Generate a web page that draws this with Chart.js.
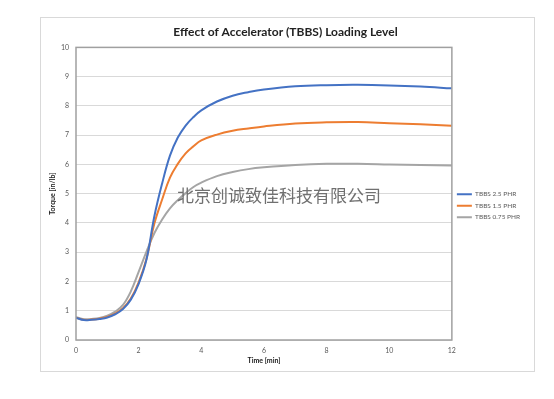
<!DOCTYPE html>
<html>
<head>
<meta charset="utf-8">
<script src="https://cdn.jsdelivr.net/npm/chart.js@4"></script>
<style>
  html, body { margin: 0; padding: 0; background: #fff; }
  body { width: 554px; height: 399px; position: relative; overflow: hidden; }
  #frame { position: absolute; left: 40px; top: 17px; width: 495px; height: 355px; border: 1px solid #d9d9d9; box-sizing: border-box; }
  #stamp { position: absolute; left: 177px; top: 185px; font: 17px "Noto Sans CJK SC", sans-serif; color: #707070; white-space: nowrap; line-height: 20px; }
</style>
</head>
<body>
<div id="frame"><canvas id="chart-torque"></canvas></div>
<div id="stamp">北京创诚致佳科技有限公司</div>
<script>
// time points (minutes)
const timeMin = [0, 0.25, 0.5, 0.75, 1, 1.25, 1.5, 1.75, 2, 2.25, 2.5, 2.75, 3, 3.25, 3.5, 3.75, 4, 4.5, 5, 5.5, 6, 7, 8, 9, 10, 11, 12];
// torque [in/lb]
const tbbs25 = [0.76, 0.68, 0.69, 0.72, 0.77, 0.88, 1.06, 1.38, 1.92, 2.75, 4.22, 5.35, 6.3, 6.92, 7.33, 7.62, 7.85, 8.15, 8.35, 8.47, 8.56, 8.67, 8.71, 8.72, 8.70, 8.66, 8.60];
const tbbs15 = [0.76, 0.69, 0.70, 0.73, 0.79, 0.90, 1.09, 1.42, 1.97, 2.78, 3.97, 4.8, 5.55, 6.02, 6.38, 6.62, 6.82, 7.02, 7.15, 7.23, 7.30, 7.40, 7.44, 7.45, 7.41, 7.37, 7.32];
const tbbs075 = [0.78, 0.71, 0.72, 0.75, 0.83, 0.97, 1.20, 1.66, 2.33, 3.02, 3.65, 4.12, 4.50, 4.78, 5.02, 5.23, 5.38, 5.60, 5.74, 5.84, 5.90, 5.98, 6.02, 6.02, 6.00, 5.98, 5.96];
const seriesNames = ['TBBS 2.5 PHR', 'TBBS 1.5 PHR', 'TBBS 0.75 PHR'];
const seriesColors = ['#4472C4', '#ED7D31', '#A5A5A5'];

const tickColor = '#595959';
const fontFamily = 'Lato, "Liberation Sans", sans-serif';
const smallFont = { family: fontFamily, size: 7 };

function points(values) {
  return timeMin.map((t, i) => ({ x: t, y: values[i] }));
}

// grey frame round the plot area, like the spreadsheet chart
const plotFrame = {
  id: 'plotFrame',
  afterDatasetsDraw(chart) {
    const a = chart.chartArea;
    const ctx = chart.ctx;
    ctx.save();
    ctx.strokeStyle = '#a0a0a0';
    ctx.lineWidth = 1.5;
    ctx.strokeRect(a.left, a.top, a.right - a.left, a.bottom - a.top);
    ctx.restore();
  }
};

const ctx = document.getElementById('chart-torque').getContext('2d');
new Chart(ctx, {
  type: 'line',
  data: {
    datasets: [tbbs25, tbbs15, tbbs075].map((vals, i) => ({
      label: seriesNames[i],
      data: points(vals),
      borderColor: seriesColors[i],
      backgroundColor: seriesColors[i],
      borderWidth: 2,
      pointRadius: 0,
      tension: 0.4
    }))
  },
  options: {
    responsive: true,
    maintainAspectRatio: false,
    animation: false,
    layout: { padding: { top: 4, right: 4, bottom: 0, left: 0 } },
    plugins: {
      title: {
        display: true,
        text: 'Effect of Accelerator (TBBS) Loading Level',
        color: '#222',
        font: { family: fontFamily, size: 12, weight: 'bold' },
        padding: { top: 3, bottom: 8 }
      },
      legend: {
        position: 'right',
        title: { display: true, text: ' ', font: smallFont, padding: { top: 5, bottom: 5 } },
        labels: {
          usePointStyle: true,
          pointStyle: 'line',
          pointStyleWidth: 15,
          boxHeight: 6.5,
          padding: 5,
          color: tickColor,
          font: { family: fontFamily, size: 6.5 }
        }
      },
      tooltip: { enabled: false }
    },
    scales: {
      x: {
        type: 'linear',
        min: 0,
        max: 12,
        grid: { display: false, drawTicks: false },
        border: { display: false },
        ticks: { stepSize: 2, color: tickColor, font: smallFont, padding: 7 },
        title: { display: true, text: 'Time [min]', color: '#222', font: { family: fontFamily, size: 7, weight: 'bold' }, padding: { top: 2, bottom: 6 } },
        afterFit(scale) { scale.height = 31; }
      },
      y: {
        min: 0,
        max: 10,
        grid: { color: '#d9d9d9', drawTicks: false },
        border: { display: false },
        ticks: { stepSize: 1, color: tickColor, font: smallFont, padding: 7 },
        title: { display: true, text: 'Torque [in/lb]', color: '#222', font: { family: fontFamily, size: 7, weight: 'bold' }, padding: { top: 8, bottom: 4 } },
        afterFit(scale) { scale.width = 35; }
      }
    }
  },
  plugins: [plotFrame]
});
</script>
</body>
</html>
